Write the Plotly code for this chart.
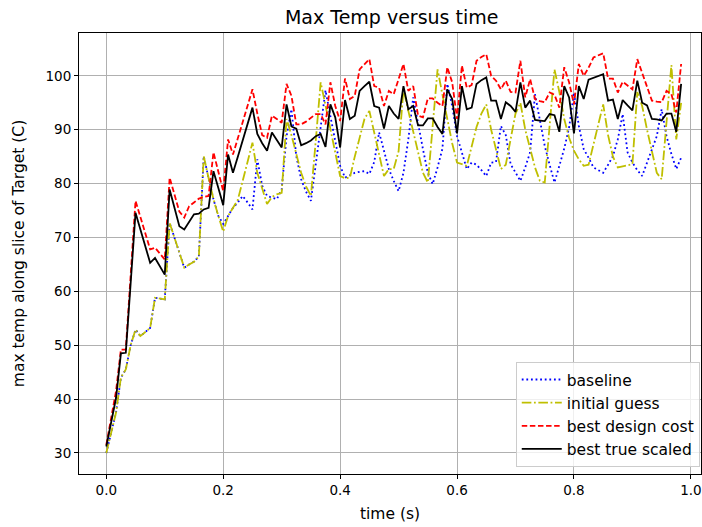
import plotly.graph_objects as go

dt = 1.0 / 120.0

baseline = [30.0, 33.8, 37.5, 44.0, 45.5, 50.0, 52.9, 51.7, 52.5, 53.2,
            58.8, 58.7, 58.5, 72.7, 70.0, 67.2, 64.4, 65.0, 65.5, 66.5,
            85.1, 81.0, 77.1, 74.0, 72.5, 74.0, 75.5, 76.5, 77.7, 76.5,
            75.2, 84.5, 79.6, 77.7, 77.4, 77.1, 78.9, 88.8, 93.8, 85.1,
            80.8, 78.5, 76.8, 84.0, 91.0, 97.3, 92.5, 88.0, 83.3, 81.1,
            81.5, 82.0, 82.2, 82.3, 81.8, 84.0, 89.5, 86.0, 82.7, 80.5,
            78.6, 82.0, 88.2, 96.0, 91.0, 86.4, 82.0, 79.9, 83.0, 86.5,
            98.5, 94.4, 88.8, 85.5, 82.7, 83.9, 83.5, 82.5, 81.4, 83.9,
            84.0, 90.7, 89.0, 83.6, 82.0, 80.5, 83.0, 85.8, 96.6, 91.6,
            87.0, 83.5, 80.2, 83.3, 86.5, 90.4, 96.9, 90.7, 86.4, 84.8,
            83.0, 82.5, 82.0, 83.5, 85.1, 88.2, 92.9, 85.8, 83.9, 82.5,
            81.4, 83.9, 86.5, 88.8, 93.8, 88.8, 85.5, 82.7, 84.8]

initial_guess = [30.0, 33.8, 37.5, 44.0, 45.5, 50.0, 52.9, 51.7, 52.5, 53.2,
                 58.8, 58.7, 58.5, 72.7, 70.0, 67.2, 64.4, 65.0, 65.5, 66.5,
                 85.1, 81.0, 77.1, 74.0, 71.1, 74.0, 75.5, 77.0, 80.5, 84.0,
                 87.6, 82.0, 79.0, 76.2, 77.5, 78.0, 78.3, 92.0, 89.0, 85.5,
                 82.0, 79.5, 77.7, 88.0, 98.8, 94.5, 90.0, 85.7, 81.4, 81.0,
                 81.1, 85.0, 88.8, 92.0, 93.5, 89.5, 85.5, 81.4, 82.7, 82.7,
                 86.0, 97.5, 93.5, 89.5, 85.5, 82.0, 80.2, 90.0, 101.2, 96.5,
                 92.0, 87.5, 83.9, 83.6, 83.3, 86.9, 90.5, 93.0, 94.7, 90.0,
                 86.4, 82.7, 83.5, 88.5, 93.0, 95.0, 90.0, 86.5, 83.0, 80.5,
                 80.2, 90.7, 101.2, 97.0, 92.0, 88.5, 86.1, 84.5, 83.3, 83.5,
                 87.0, 91.0, 94.7, 89.0, 85.0, 83.0, 83.2, 83.4, 83.6, 97.0,
                 94.4, 90.0, 86.0, 82.0, 80.8, 91.0, 102.0, 88.2, 95.0]

best_design_cost = [31.5, 36.5, 41.5, 49.2, 49.2, 63.0, 76.8, 73.8, 70.8, 67.8,
                    68.1, 67.0, 65.9, 81.1, 78.0, 74.8, 73.7, 75.8, 76.5, 77.2,
                    77.5, 77.7, 85.8, 82.2, 78.6, 88.2, 85.4, 88.4, 91.4, 94.5,
                    97.5, 93.0, 89.0, 88.5, 92.6, 92.0, 91.3, 98.5, 96.3, 91.0,
                    91.0, 91.5, 92.2, 92.9, 92.9, 91.0, 98.8, 94.4, 91.6, 99.5,
                    95.7, 96.3, 101.2, 102.2, 103.1, 98.1, 97.8, 94.4, 97.2, 96.6,
                    99.4, 102.2, 97.2, 98.1, 92.6, 92.3, 95.8, 95.8, 95.0, 94.4,
                    101.6, 98.8, 92.0, 101.9, 97.8, 98.3, 102.8, 103.5, 104.0, 100.0,
                    99.1, 97.5, 99.1, 97.0, 96.9, 102.8, 96.0, 99.4, 95.7, 95.3,
                    95.1, 96.9, 96.5, 94.1, 101.6, 98.8, 94.7, 102.2, 100.0, 101.5,
                    103.4, 103.8, 104.2, 99.5, 99.5, 96.9, 98.9, 98.2, 97.5, 103.1,
                    100.6, 98.0, 95.4, 95.2, 95.1, 97.2, 96.6, 93.2, 102.2]

best_true_scaled = [31.2, 35.7, 40.2, 48.5, 48.6, 61.5, 74.6, 71.5, 68.4, 65.3,
                    66.2, 64.6, 63.1, 78.9, 75.5, 72.1, 71.5, 73.0, 74.3, 74.4,
                    75.2, 75.5, 82.3, 79.2, 76.0, 85.4, 82.0, 85.0, 88.0, 91.0,
                    94.1, 89.2, 87.5, 86.1, 89.5, 88.1, 86.7, 94.7, 90.6, 90.2,
                    87.1, 87.5, 88.0, 88.8, 89.2, 86.8, 94.7, 92.3, 86.7, 95.5,
                    92.0, 92.6, 97.2, 98.1, 98.9, 94.4, 94.1, 90.2, 94.4, 93.0,
                    92.0, 98.1, 93.8, 94.4, 90.8, 90.8, 92.1, 92.1, 90.5, 89.2,
                    97.5, 95.7, 89.3, 98.1, 93.8, 94.1, 98.5, 99.2, 99.7, 95.4,
                    95.4, 92.0, 95.1, 94.4, 93.3, 98.8, 94.1, 95.4, 91.8, 91.7,
                    91.6, 92.9, 92.7, 89.6, 98.1, 96.0, 89.3, 98.1, 95.7, 99.3,
                    99.6, 99.9, 100.3, 95.4, 95.6, 92.0, 95.5, 94.5, 93.6, 99.1,
                    95.0, 94.5, 92.0, 91.9, 91.7, 93.0, 93.0, 89.6, 98.5]

time_s = [i * dt for i in range(len(best_true_scaled))]

x_ticks = [0.0, 0.2, 0.4, 0.6, 0.8, 1.0]
x_tick_labels = ["0.0", "0.2", "0.4", "0.6", "0.8", "1.0"]
y_ticks = [30, 40, 50, 60, 70, 80, 90, 100]

series = [
    ("baseline", baseline, "#0000ff", "1.8px,2.8px"),
    ("initial guess", initial_guess, "#bfbf00", "9.6px,2.6px,1.8px,2.6px"),
    ("best design cost", best_design_cost, "#ff0000", "5.5px,2.6px"),
    ("best true scaled", best_true_scaled, "#000000", "solid"),
]

fig = go.Figure()
for k, (name, vals, color, dash) in enumerate(series):
    fig.add_trace(go.Scatter(
        x=time_s, y=vals, mode="lines", name=name, legendgroup=f"g{k}",
        line=dict(color=color, width=1.8, dash=dash),
    ))

font_family = "DejaVu Sans, Arial, sans-serif"
fig.update_layout(
    width=702, height=527,
    margin=dict(l=79, r=1, t=33, b=53),
    paper_bgcolor="white", plot_bgcolor="white",
    font=dict(family=font_family, size=13.5, color="#000000"),
    title=dict(text="Max Temp versus time", x=0.558, xanchor="center",
               y=1 - 17 / 527, yanchor="middle",
               font=dict(size=19, color="#000000")),
    showlegend=True,
    legend=dict(x=0.998, y=0.016, xanchor="right", yanchor="bottom",
                bgcolor="rgba(255,255,255,0.8)", bordercolor="#cccccc",
                borderwidth=1, font=dict(size=15.5, color="#000000"),
                traceorder="normal", tracegroupgap=4, itemwidth=40),
)
fig.update_xaxes(
    range=[-0.0467, 1.0173], tickvals=x_ticks, ticktext=x_tick_labels,
    showgrid=True, gridcolor="#b0b0b0", gridwidth=1,
    showline=True, linecolor="#000000", linewidth=1, mirror=True,
    ticks="outside", ticklen=4, tickcolor="#000000", zeroline=False,
    title=dict(text="time (s)", standoff=10, font=dict(size=15.5)),
)
fig.update_yaxes(
    range=[26.1, 107.95], tickvals=y_ticks,
    showgrid=True, gridcolor="#b0b0b0", gridwidth=1,
    showline=True, linecolor="#000000", linewidth=1, mirror=True,
    ticks="outside", ticklen=4, tickcolor="#000000", zeroline=False,
    title=dict(text="max temp along slice of Target (C)", standoff=17,
               font=dict(size=15.5)),
)

fig.write_html("out.html")
